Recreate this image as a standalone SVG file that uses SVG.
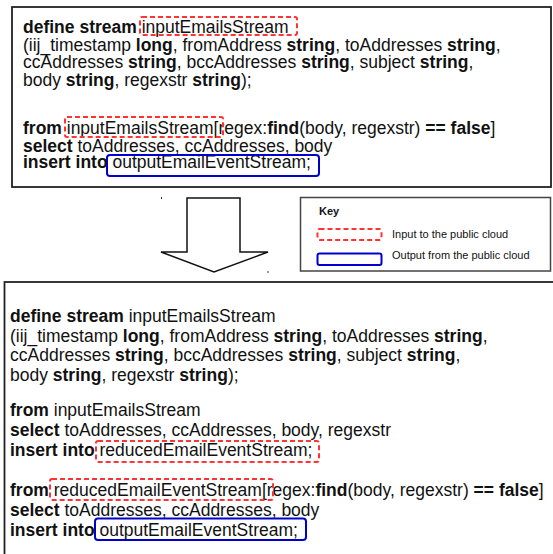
<svg xmlns="http://www.w3.org/2000/svg" width="553" height="554" viewBox="0 0 553 554">
<style>
text{font-family:"Liberation Sans",Arial,sans-serif;font-size:17.5px;fill:#111}
.b{font-weight:bold}
.frame{fill:#fff;stroke:#222;stroke-width:1.8}
.in{fill:none;stroke:#ff3333;stroke-width:2;stroke-dasharray:5 3}
.out{fill:none;stroke:#0000cc;stroke-width:2}
.key{font-size:11px}
.tick{fill:#333}
</style>
<rect width="553" height="554" fill="#fff"/>
<g id="query-original">
<rect class="frame" x="12" y="7" width="539" height="180"/>
<text x="23" y="33"><tspan class="b">define stream</tspan> inputEmailsStream</text>
<text x="23" y="50.5">(iij_timestamp <tspan class="b">long</tspan>, fromAddress <tspan class="b">string</tspan>, toAddresses <tspan class="b">string</tspan>,</text>
<text x="23" y="68">ccAddresses <tspan class="b">string</tspan>, bccAddresses <tspan class="b">string</tspan>, subject <tspan class="b">string</tspan>,</text>
<text x="23" y="85.5">body <tspan class="b">string</tspan>, regexstr <tspan class="b">string</tspan>);</text>
<text x="23" y="134"><tspan class="b">from</tspan> inputEmailsStream[regex:<tspan class="b">find</tspan>(body, regexstr) <tspan class="b">== false</tspan>]</text>
<text x="23" y="151.5"><tspan class="b">select</tspan> toAddresses, ccAddresses, body</text>
<text x="23" y="168"><tspan class="b">insert into</tspan> outputEmailEventStream;</text>
<rect class="in" x="140" y="17" width="157" height="18" rx="2"/>
<rect class="in" x="65" y="117" width="158" height="20" rx="2"/>
<rect class="out" x="107" y="155" width="212" height="21" rx="3"/>
</g>
<g id="arrow">
<polygon points="187,198 240,198 240,252 268,252 214,272 161,252 187,252" fill="#fff" stroke="#111" stroke-width="1.5"/>
<rect class="tick" x="161" y="197" width="1" height="2"/>
<rect class="tick" x="267.5" y="271" width="1" height="2"/>
</g>
<g id="key">
<rect x="300.5" y="197.5" width="250" height="73.5" fill="#fff" stroke="#444" stroke-width="1.5"/>
<text class="key b" x="319" y="215">Key</text>
<rect class="in" x="317.5" y="229" width="64" height="11" rx="2" stroke-dasharray="4 2.5"/>
<text class="key" x="392" y="238">Input to the public cloud</text>
<rect class="out" x="317.5" y="253.5" width="64" height="11.5" rx="2"/>
<text class="key" x="392" y="259">Output from the public cloud</text>
</g>
<g id="query-split">
<rect class="frame" x="4.5" y="282" width="560" height="290"/>
<text x="10" y="322"><tspan class="b">define stream</tspan> inputEmailsStream</text>
<text x="10" y="341.5">(iij_timestamp <tspan class="b">long</tspan>, fromAddress <tspan class="b">string</tspan>, toAddresses <tspan class="b">string</tspan>,</text>
<text x="10" y="361">ccAddresses <tspan class="b">string</tspan>, bccAddresses <tspan class="b">string</tspan>, subject <tspan class="b">string</tspan>,</text>
<text x="10" y="380.5">body <tspan class="b">string</tspan>, regexstr <tspan class="b">string</tspan>);</text>
<text x="10" y="416"><tspan class="b">from</tspan> inputEmailsStream</text>
<text x="10" y="436"><tspan class="b">select</tspan> toAddresses, ccAddresses, body, regexstr</text>
<text x="10" y="456"><tspan class="b">insert into</tspan> reducedEmailEventStream;</text>
<text x="10" y="496"><tspan class="b">from</tspan> reducedEmailEventStream[regex:<tspan class="b">find</tspan>(body, regexstr) <tspan class="b">== false</tspan>]</text>
<text x="10" y="516"><tspan class="b">select</tspan> toAddresses, ccAddresses, body</text>
<text x="10" y="536"><tspan class="b">insert into</tspan> outputEmailEventStream;</text>
<rect class="in" x="96" y="441" width="223" height="21" rx="2"/>
<rect class="in" x="50" y="479" width="223" height="21" rx="2"/>
<rect class="out" x="95" y="518.5" width="211" height="21.5" rx="3"/>
</g>
</svg>
